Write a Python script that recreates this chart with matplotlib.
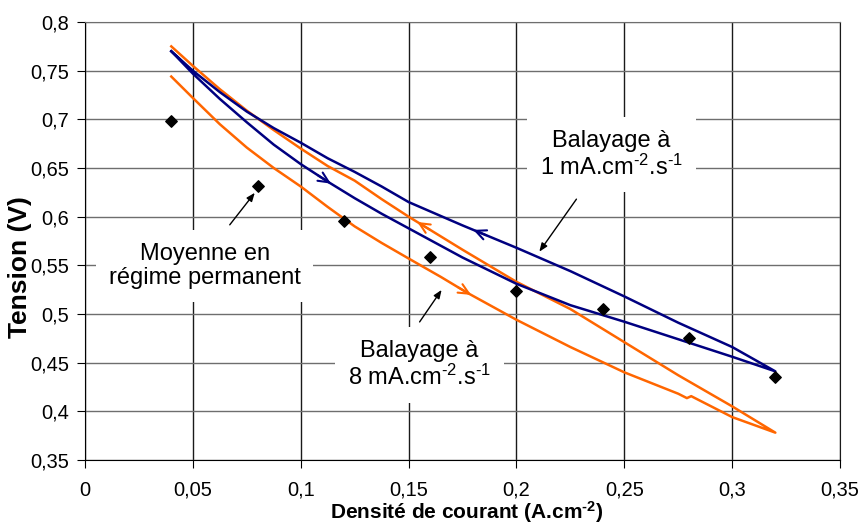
import numpy as np
from matplotlib import pyplot as plt
from matplotlib.ticker import FuncFormatter, MultipleLocator

plt.rcParams['font.family'] = ['Liberation Sans', 'DejaVu Sans']
plt.rcParams['mathtext.fontset'] = 'custom'
plt.rcParams['mathtext.rm'] = 'Liberation Sans'
plt.rcParams['mathtext.bf'] = 'Liberation Sans:bold'
plt.rcParams['mathtext.default'] = 'regular'

# moyenne en regime permanent
x_moyenne = [0.04, 0.08, 0.12, 0.16, 0.20, 0.24, 0.28, 0.32]
u_moyenne = [0.698, 0.632, 0.596, 0.559, 0.524, 0.505, 0.475, 0.435]

# balayage 1 mA.cm-2.s-1 : aller puis retour
x_1_aller = [0.04, 0.05, 0.0625, 0.075, 0.0875, 0.10, 0.1125, 0.125, 0.1375, 0.15, 0.175, 0.20,
             0.225, 0.25, 0.275, 0.30, 0.32]
u_1_aller = [0.770, 0.747, 0.721, 0.697, 0.674, 0.654, 0.636, 0.619, 0.603, 0.588, 0.558, 0.531,
             0.509, 0.492, 0.474, 0.456, 0.441]
x_1_retour = [0.32, 0.30, 0.275, 0.25, 0.225, 0.20, 0.175, 0.15, 0.1375, 0.125, 0.1125, 0.10,
              0.0875, 0.075, 0.0625, 0.05, 0.04]
u_1_retour = [0.441, 0.466, 0.491, 0.518, 0.544, 0.568, 0.591, 0.615, 0.631, 0.646, 0.660, 0.676,
              0.691, 0.708, 0.728, 0.750, 0.770]

# balayage 8 mA.cm-2.s-1 : aller puis retour
x_8_aller = [0.04, 0.05, 0.0625, 0.075, 0.0875, 0.10, 0.1125, 0.125, 0.1375, 0.15, 0.165, 0.177,
             0.20, 0.225, 0.25, 0.275, 0.279, 0.281, 0.30, 0.32]
u_8_aller = [0.744, 0.722, 0.695, 0.671, 0.650, 0.631, 0.610, 0.590, 0.573, 0.557, 0.538, 0.522,
             0.494, 0.466, 0.440, 0.418, 0.4135, 0.4155, 0.394, 0.378]
x_8_retour = [0.32, 0.30, 0.275, 0.25, 0.225, 0.20, 0.175, 0.15, 0.1375, 0.125, 0.1125, 0.10,
              0.0875, 0.075, 0.0625, 0.05, 0.04]
u_8_retour = [0.378, 0.405, 0.437, 0.471, 0.505, 0.533, 0.566, 0.600, 0.618, 0.637, 0.652, 0.670,
              0.689, 0.709, 0.731, 0.755, 0.775]

bleu = '#000080'
orange = '#FF6600'


def virgule(val, pos):
    return ('%g' % round(val, 3)).replace('.', ',')


def fleche(ax, xs, ys, x_pos, sens, color):
    # petite fleche posee sur la courbe
    order = np.argsort(xs, kind='stable')
    xs_s = np.array(xs)[order]
    ys_s = np.array(ys)[order]
    x0 = x_pos - sens * 0.004
    x1 = x_pos + sens * 0.002
    y0 = np.interp(x0, xs_s, ys_s)
    y1 = np.interp(x1, xs_s, ys_s)
    ax.annotate('', xy=(x1, y1), xytext=(x0, y0),
                arrowprops=dict(arrowstyle='->,head_length=0.75,head_width=0.35',
                                color=color, lw=1.5, shrinkA=0, shrinkB=0))


fig = plt.figure(figsize=(8.61, 5.25), dpi=100)
ax = fig.add_axes([0.0987, 0.124, 0.877, 0.834])

ax.plot(x_8_aller + x_8_retour, u_8_aller + u_8_retour, color=orange, lw=1.8, zorder=3)
ax.plot(x_1_aller + x_1_retour, u_1_aller + u_1_retour, color=bleu, lw=1.8, zorder=4)
ax.scatter(x_moyenne, u_moyenne, marker='D', s=34, color='black', zorder=5)

fleche(ax, x_1_aller, u_1_aller, 0.112, 1, bleu)
fleche(ax, x_1_retour, u_1_retour, 0.182, -1, bleu)
fleche(ax, x_8_aller, u_8_aller, 0.177, 1, orange)
fleche(ax, x_8_retour, u_8_retour, 0.156, -1, orange)

ax.set_xlim(0, 0.35)
ax.set_ylim(0.35, 0.8)
ax.xaxis.set_major_locator(MultipleLocator(0.05))
ax.yaxis.set_major_locator(MultipleLocator(0.05))
ax.xaxis.set_major_formatter(FuncFormatter(virgule))
ax.yaxis.set_major_formatter(FuncFormatter(virgule))
ax.xaxis.grid(True, color='#1a1a1a', lw=1)
ax.yaxis.grid(True, color='#6e6e6e', lw=1)
ax.set_axisbelow(True)
ax.spines['left'].set_color('black')
ax.spines['bottom'].set_color('black')
ax.spines['top'].set_color('#6e6e6e')
ax.spines['right'].set_color('#1a1a1a')
ax.tick_params(labelsize=14.4, direction='out', length=6, color='black')
ax.tick_params(axis='x', pad=9)
ax.tick_params(axis='y', pad=5.5)

ax.set_xlabel('Densité de courant (A.cm$^{\u20102}$)', fontsize=15, fontweight='bold')
ax.set_ylabel('Tension (V)', fontsize=19, fontweight='bold')
ax.xaxis.set_label_coords(0.506, -0.09)
ax.yaxis.set_label_coords(-0.07, 0.44)

boite = dict(facecolor='white', edgecolor='none', pad=9)
ax.text(0.244, 0.6636, 'Balayage à\n1 mA.cm$^{\u20102}$.s$^{\u20101}$', fontsize=17, ha='center', va='center',
        linespacing=1.15, bbox=boite, zorder=6)
ax.text(0.0556, 0.5494, 'Moyenne en\nrégime permanent', fontsize=17, ha='center', va='center',
        linespacing=1.15, bbox=boite, zorder=6)
ax.text(0.155, 0.4475, 'Balayage à\n8 mA.cm$^{\u20102}$.s$^{\u20101}$', fontsize=17, ha='center', va='center',
        linespacing=1.15, bbox=boite, zorder=6)

pointe = dict(arrowstyle='-|>,head_length=0.5,head_width=0.2', color='black', lw=1, shrinkA=0, shrinkB=0)
ax.annotate('', xy=(0.2106, 0.564), xytext=(0.2278, 0.618), arrowprops=pointe, zorder=7)
ax.annotate('', xy=(0.0787, 0.6245), xytext=(0.0671, 0.5916), arrowprops=pointe, zorder=7)
ax.annotate('', xy=(0.1653, 0.5247), xytext=(0.1551, 0.4918), arrowprops=pointe, zorder=7)

fig.savefig('out.png', dpi=100)
